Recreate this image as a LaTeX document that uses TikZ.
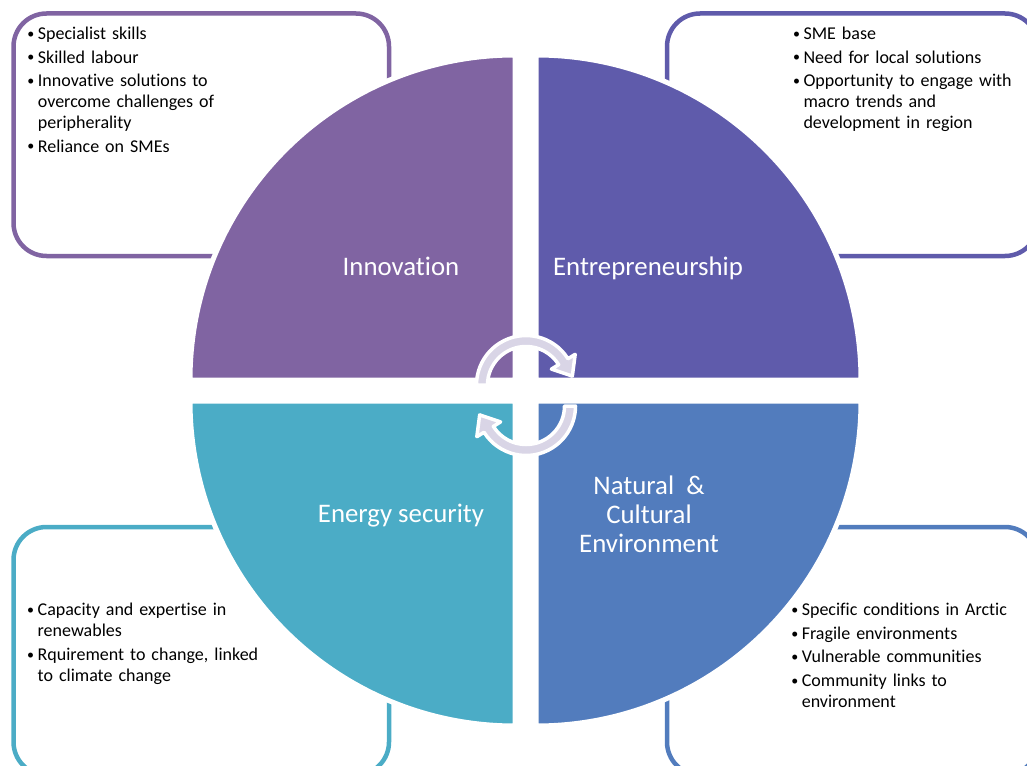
\documentclass[tikz,border=0pt]{standalone}
\usepackage{fontspec}
\setmainfont{Carlito}[Ligatures=NoCommon]
\usetikzlibrary{calc}
\definecolor{cInno}{HTML}{8064A2}
\definecolor{cEntr}{HTML}{5F5BAB}
\definecolor{cNat}{HTML}{527CBD}
\definecolor{cEner}{HTML}{4BACC6}
\definecolor{cArrow}{HTML}{D9D5E6}
\newcommand\bitem[1]{\hangindent=11pt\hangafter=1\noindent\rule{0pt}{15pt}\makebox[11pt][l]{\hspace{0.5pt}\raisebox{1.2pt}{\fontsize{14}{14}\selectfont\textbullet}}#1\par}
\tikzset{
  infobox/.style={line width=4.5pt, rounded corners=33pt},
  quad/.style={draw=white, line width=5pt},
  qlabel/.style={text=white, font=\fontsize{26.8}{29}\selectfont, align=center, inner sep=0pt},
  btext/.style={anchor=north west, inner sep=0pt, text width=260pt, align=left,
    font=\fontsize{18}{21}\selectfont},
  cyc/.style={fill=cArrow, draw=white, line width=3.5pt, line join=round},
}
\begin{document}
\begin{tikzpicture}[x=1pt,y=1pt]
\useasboundingbox (0,0) rectangle (1027,-765);
\clip (0,0) rectangle (1027,-765);
% info boxes
\draw[infobox, draw=cInno] (13.5,-13.5) rectangle (389,-256);
\draw[infobox, draw=cEntr] (667,-13.5) rectangle (1038,-256);
\draw[infobox, draw=cEner] (13.5,-527) rectangle (389,-775);
\draw[infobox, draw=cNat]  (667,-527) rectangle (1038,-775);
% quadrants
\path[quad, fill=cInno] (515,-380) -- (190,-380) arc[start angle=180, end angle=90, radius=325] -- cycle;
\path[quad, fill=cEntr] (536,-380) -- (536,-55) arc[start angle=90, end angle=0, radius=325] -- cycle;
\path[quad, fill=cEner] (515,-401) -- (190,-401) arc[start angle=180, end angle=270, radius=325] -- cycle;
\path[quad, fill=cNat]  (536,-401) -- (861,-401) arc[start angle=0, end angle=-90, radius=325] -- cycle;
% cycle arrows
\coordinate (c1) at (526,-385);
\coordinate (c2) at (526,-406);
\path[cyc] ($(c1)+(180:38.5)$) arc[start angle=180, end angle=32, radius=38.5]
  -- ($(c1)+(32:30)$) -- ($(c1)+(32:44)+(-58:17)$) -- ($(c1)+(32:58)$)
  -- ($(c1)+(32:49.5)$) arc[start angle=32, end angle=180, radius=49.5] -- cycle;
\path[cyc] ($(c2)+(0:38.5)$) arc[start angle=0, end angle=-148, radius=38.5]
  -- ($(c2)+(-148:30)$) -- ($(c2)+(-148:44)+(122:17)$) -- ($(c2)+(-148:58)$)
  -- ($(c2)+(-148:49.5)$) arc[start angle=-148, end angle=0, radius=49.5] -- cycle;
% labels
\node[qlabel, anchor=base] (linno) at (401,-275.6) {Innovation};
\node[qlabel, anchor=base] (lentr) at (648,-275.6) {Entrepreneurship};
\node[qlabel, anchor=base] (lener) at (401,-522.6) {Energy security};
\node[qlabel] (lnat) at (649,-514) {Natural~~\&\\Cultural\\Environment};
% box texts
\node[btext] (tinno) at (26.7,-24.5) {\setlength{\parskip}{2.5pt}%
  \bitem{Specialist skills}%
  \bitem{Skilled labour}%
  \bitem{Innovative solutions to\newline overcome challenges of\newline peripherality}%
  \bitem{Reliance on SMEs}};
\node[btext] (tentr) at (792.3,-24.5) {\setlength{\parskip}{2.5pt}%
  \bitem{SME base}%
  \bitem{Need for local solutions}%
  \bitem{Opportunity to engage with\newline macro trends and\newline development in region}};
\node[btext] (tener) at (26.5,-600.5) {\setlength{\parskip}{2.5pt}%
  \bitem{Capacity and expertise in\newline renewables}%
  \bitem{Rquirement to change, linked\newline to climate change}};
\node[btext] (tnat) at (790.6,-600.5) {\setlength{\parskip}{2.5pt}%
  \bitem{Specific conditions in Arctic}%
  \bitem{Fragile environments}%
  \bitem{Vulnerable communities}%
  \bitem{Community links to\newline environment}};
\end{tikzpicture}
\end{document}
